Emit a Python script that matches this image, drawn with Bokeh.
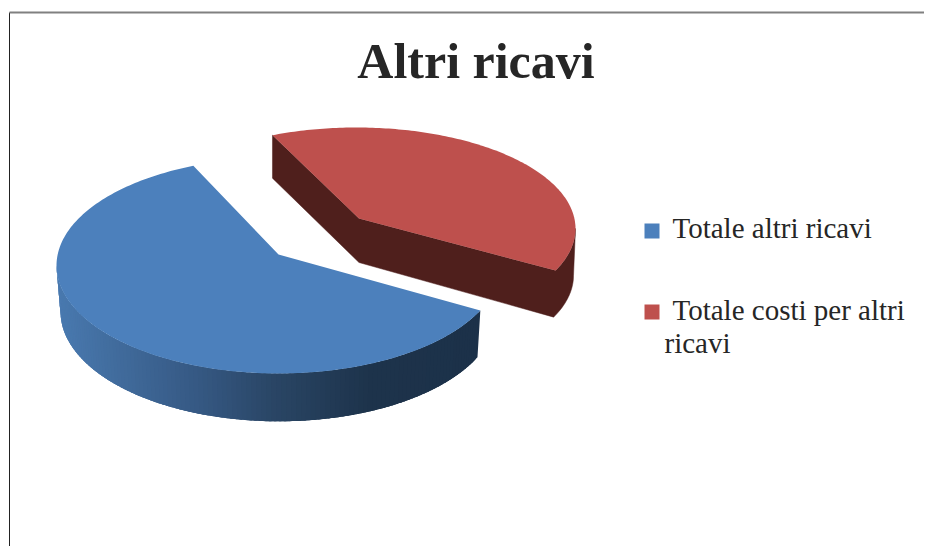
import numpy as np
from bokeh.plotting import figure
from bokeh.models import Range1d
from bokeh.core.properties import value
from bokeh.embed import file_html
from bokeh.resources import INLINE

title_text = "Altri ricavi"
series_names = ["Totale altri ricavi", "Totale costi per altri ricavi"]
series_values = [61.9, 38.1]

BLUE, RED = "#4c80bc", "#be504d"
RED_SIDE = "#4f1f1c"
TEXT = "#262626"
SERIF = value("Liberation Serif")

# projection geometry, pixels of the picture
START = 114.6
sweep = [360 * v / sum(series_values) for v in series_values]
blue_a, blue_b = START, START + sweep[0]
red_a, red_b = blue_b, blue_b + sweep[1]

def pt(e, t):
    t = np.radians(t)
    return e[0] + e[2] * np.sin(t), e[1] - e[3] * np.cos(t)

def arc(e, a, b, n=160):
    return pt(e, np.linspace(a, b, n))

B_TOP, B_BOT, B_APEX = (278, 265, 222, 108), (278.4, 311, 218.4, 109.8), (278, 254)
R_TOP, R_BOT, R_APEX = (356, 228, 219, 101), (354.5, 275, 218.5, 100), (358.5, 218)
R_DROP = 44

p = figure(width=924, height=546, output_backend="svg", toolbar_location=None,
           x_range=Range1d(0, 924), y_range=Range1d(546, 0), min_border=0,
           outline_line_color=None, background_fill_color="white", tools="")
p.axis.visible = False
p.grid.visible = False

# frame
p.line([9, 9], [12, 546], line_color="#222222", line_width=1)
p.line([9, 924], [12, 12], line_color="#808080", line_width=2)

# red slice: all side faces as one outline, then top
x0, y0 = pt(R_TOP, red_a)
tx, ty = arc(R_TOP, START, 90, 40)
bx, by = arc(R_BOT, 90, START, 40)
p.patch(np.r_[x0, R_APEX[0], tx, bx, R_APEX[0], x0],
        np.r_[y0, R_APEX[1], ty, by, R_APEX[1] + R_DROP, y0 + R_DROP - 1],
        fill_color=RED_SIDE, line_color=RED_SIDE, line_width=0.5)
ax, ay = arc(R_TOP, red_a, red_b)
p.patch(np.r_[R_APEX[0], ax], np.r_[R_APEX[1], ay], fill_color=RED, line_color=None)

# blue slice: shaded rim, then top
stops_x = [57, 200, 270, 370, 480]
stops_c = np.array([[0x49, 0x79, 0xaf], [0x35, 0x58, 0x82], [0x2a, 0x46, 0x66],
                    [0x1d, 0x33, 0x4b], [0x1c, 0x31, 0x49]], float)
edges = np.linspace(START, 270, 121)
step = edges[1] - edges[0]
for a in edges[:-1]:
    b = min(a + 2.5 * step, 270)
    ang = np.linspace(a, b, 4)
    tx, ty = pt(B_TOP, ang)
    bx, by = pt(B_BOT, ang[::-1])
    mid = pt(B_TOP, a + step / 2)[0]
    rgb = [int(round(np.interp(mid, stops_x, stops_c[:, i]))) for i in range(3)]
    col = "#%02x%02x%02x" % tuple(rgb)
    p.patch(np.r_[tx, bx], np.r_[ty, by], fill_color=col, line_color=None)
ax, ay = arc(B_TOP, blue_a, blue_b, 240)
p.patch(np.r_[B_APEX[0], ax], np.r_[B_APEX[1], ay], fill_color=BLUE, line_color=None)

# title
p.text([475.5], [60], text=[title_text], text_font=SERIF, text_font_style="bold",
       text_font_size="50px", text_color=TEXT, text_align="center", text_baseline="alphabetic")

# legend
p.quad(left=[644], right=[659], top=[223], bottom=[238], fill_color=BLUE, line_color=None)
p.quad(left=[644], right=[659], top=[304], bottom=[319], fill_color=RED, line_color=None)
first, second = series_names[1].rsplit(" ", 1)
p.text([672, 672, 664], [227, 309, 342], text=[series_names[0], first, second], text_font=SERIF,
       text_font_size="29px", text_color=TEXT, text_align="left", text_baseline="alphabetic")

open("out.html", "w").write(file_html(p, INLINE))
